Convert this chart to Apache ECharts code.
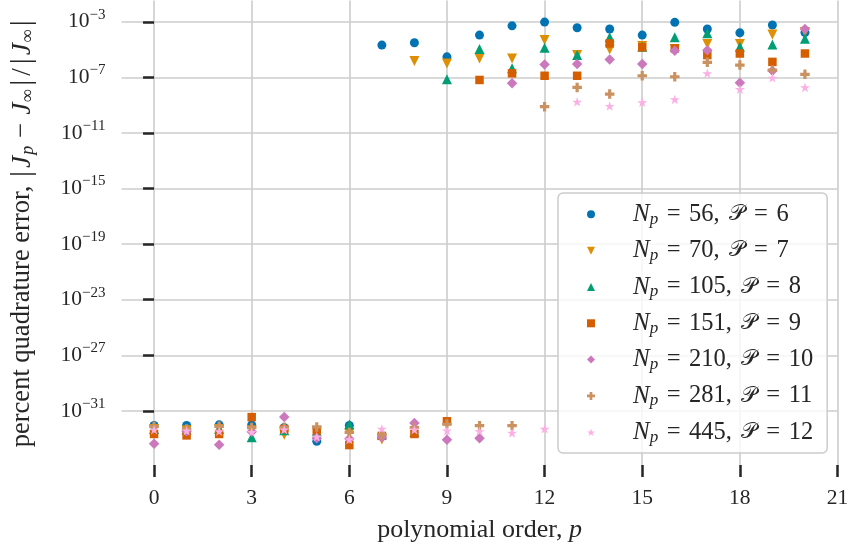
<!DOCTYPE html>
<html><head><meta charset="utf-8">
<script src="https://cdn.jsdelivr.net/npm/echarts@6/dist/echarts.min.js"></script>
<style>html,body{margin:0;padding:0;background:#fff}#c{width:851px;height:545px}</style>
</head><body><div id="c"></div>
<script>
// ---- data ----
const pOrders = [0,1,2,3,4,5,6,7,8,9,10,11,12,13,14,15,16,17,18,19,20];
const xTicks = [0,3,6,9,12,15,18,21];
const yTicks = [1e-31,1e-27,1e-23,1e-19,1e-15,1e-11,1e-7,1e-3];
const Np = [56,70,105,151,210,281,445];
const Pcal = [6,7,8,9,10,11,12];

const errNp56 = [9.1e-33,9.1e-33,1.0e-32,1.0e-32,6.3e-33,6.5e-34,8.9e-33,
  2.1e-5,3.1e-5,3.0e-6,1.1e-4,5.1e-4,9.5e-4,3.7e-4,3.0e-4,1.1e-4,9.1e-4,3.0e-4,1.6e-4,5.8e-4,1.7e-4];
const errNp70 = [5.0e-33,4.0e-33,5.0e-33,4.0e-33,1.95e-33,3.2e-33,2.5e-33,8.9e-34,
  1.5e-6,1.0e-6,2.3e-6,2.3e-6,4.8e-5,4.0e-6,1.0e-5,1.8e-5,1.1e-5,2.5e-5,2.5e-5,1.2e-4,1.8e-4];
const errNp105 = [5.0e-33,4.5e-33,5.0e-33,1.26e-33,4.0e-33,3.5e-33,1.07e-32,2.0e-33,3.2e-33,
  7.2e-8,1.1e-5,4.5e-7,1.35e-5,4.0e-6,7.6e-5,1.6e-5,7.6e-5,1.5e-4,1.6e-5,2.3e-5,6.0e-5];
const errNp151 = [2.2e-33,1.74e-33,2.2e-33,3.6e-32,5.0e-33,4.0e-33,3.5e-34,1.6e-33,2.2e-33,1.8e-32,
  6.5e-8,1.95e-7,1.3e-7,1.3e-7,2.75e-5,1.45e-5,1.23e-5,4.0e-6,5.2e-6,1.3e-6,5.2e-6];
const errNp210 = [4.4e-34,3.5e-33,3.7e-34,3.2e-33,3.6e-32,1.1e-33,1.0e-33,1.26e-33,1.35e-32,8.5e-34,1.1e-33,
  3.7e-8,8.5e-7,9.1e-7,1.95e-6,9.1e-7,8.1e-6,9.1e-6,4.1e-8,3.0e-7,3.0e-4];
const errNp281 = [7.8e-33,5.0e-33,7.8e-33,6.3e-33,6.6e-33,7.1e-33,2.8e-33,1.95e-33,6.3e-33,1.15e-32,8.7e-33,8.7e-33,
  7.8e-10,1.9e-8,6.3e-9,1.3e-7,1.1e-7,1.2e-6,7.6e-7,3.4e-7,1.66e-7];
const errNp445 = [4.5e-33,3.8e-33,3.4e-33,3.0e-33,4.5e-33,1.4e-33,8.9e-34,5.2e-33,4.5e-33,3.8e-33,3.4e-33,2.6e-33,5.2e-33,
  1.74e-9,8.7e-10,1.6e-9,2.6e-9,1.95e-7,1.4e-8,9.3e-8,1.9e-8];

const seriesValues = [errNp56, errNp70, errNp105, errNp151, errNp210, errNp281, errNp445];
const colors = ['#0173b2','#de8f05','#029e73','#d55e00','#cc78bc','#ca9161','#fbafe4'];
const symbols = [
  'circle',
  'path://M0,0 L2,0 L1,2 Z',
  'path://M1,0 L2,2 L0,2 Z',
  'path://M0,0 H1 V1 H0 Z',
  'path://M1,0 L2,1 L1,2 L0,1 Z',
  'path://M1,0 H2 V1 H3 V2 H2 V3 H1 V2 H0 V1 H1 Z',
  'path://M0,-1 L0.2245,-0.309 L0.951,-0.309 L0.3633,0.118 L0.5878,0.809 L0,0.382 L-0.5878,0.809 L-0.3633,0.118 L-0.951,-0.309 L-0.2245,-0.309 Z'
];
const sizes = [9, 10, 10, 8.5, 10.5, 9.5, 10];

const SERIF = '"Liberation Serif", "DejaVu Serif", serif';
const TXT = '#262626';

function supLabel(v){
  const e = Math.round(Math.log10(v));
  return '{b|10}{s|' + (e < 0 ? '\u2212' + (-e) : e) + '}';
}

const names = Np.map((n,i)=>'Np=' + n + ', P=' + Pcal[i]);

const series = seriesValues.map((vals, i) => ({
  type: 'scatter',
  name: names[i],
  data: pOrders.map((p, k) => [p, vals[k]]),
  symbol: symbols[i],
  symbolSize: sizes[i],
  symbolKeepAspect: true,
  itemStyle: { color: colors[i], opacity: 1 },
  emphasis: { disabled: true }
}));

const chart = echarts.init(document.getElementById('c'), null, { renderer: 'canvas' });
chart.setOption({
  animation: false,
  backgroundColor: '#fff',
  grid: { left: 121.5, right: 13.5, top: 0.5, bottom: 80, containLabel: false, outerBoundsMode: 'none' },
  xAxis: {
    type: 'value', min: -1, max: 21,
    axisLine: { show: false },
    axisTick: { show: true, customValues: xTicks, length: 12, lineStyle: { color: TXT, width: 2.5 } },
    axisLabel: { customValues: xTicks, fontFamily: SERIF, fontSize: 21.5, color: TXT, margin: 22 },
    splitLine: { show: true, lineStyle: { color: '#cccccc', width: 1.6 } },
    name: 'polynomial order, {i|p}',
    nameLocation: 'middle', nameGap: 50, nameMoveOverlap: false,
    nameTextStyle: { fontFamily: SERIF, fontSize: 26, color: TXT, lineHeight: 30,
      rich: { i: { fontFamily: SERIF, fontStyle: 'italic', fontSize: 26, color: TXT, lineHeight: 30 } } }
  },
  yAxis: {
    type: 'log', logBase: 10,
    min: Math.pow(10, -34.89), max: Math.pow(10, -1.47),
    axisLine: { show: false },
    axisTick: { show: true, customValues: yTicks, length: 11, lineStyle: { color: TXT, width: 2.5 } },
    axisLabel: { customValues: yTicks, formatter: supLabel, margin: 16,
      rich: {
        b: { fontFamily: SERIF, fontSize: 21.5, color: TXT },
        s: { fontFamily: SERIF, fontSize: 15, color: TXT, padding: [0,0,14,0] }
      } },
    splitLine: { show: true, lineStyle: { color: '#cccccc', width: 1.6 } },
    name: 'percent quadrature error, {bar||}{i|J}{sub|p}{op|\u2212}{i|J}{sub|\u221e}{bar||}{sl|/}{bar||}{i|J}{sub|\u221e}{bar||}',
    nameLocation: 'middle', nameGap: 84, nameRotate: 90, nameMoveOverlap: false,
    nameTextStyle: { fontFamily: SERIF, fontSize: 26.5, color: TXT, lineHeight: 30,
      rich: {
        i: { fontFamily: SERIF, fontStyle: 'italic', fontSize: 27.5, color: TXT, padding: [0,1,0,1] },
        bar: { fontFamily: SERIF, fontSize: 30, color: TXT, padding: [0,2,0,2] },
        op: { fontFamily: SERIF, fontSize: 26.5, color: TXT, padding: [0,7,0,7] },
        sl: { fontFamily: SERIF, fontSize: 27, color: TXT, padding: [0,2,0,2] },
        sub: { fontFamily: SERIF, fontStyle: 'italic', fontSize: 18, color: TXT, padding: [11,1,0,0] }
      } }
  },
  legend: {
    orient: 'vertical', left: 558, top: 193,
    padding: [7.3, 14, 6.7, 29],
    itemWidth: 8, itemHeight: 8, itemGap: 8.33,
    backgroundColor: 'rgba(255,255,255,0.8)', borderColor: '#cccccc', borderWidth: 1.5, borderRadius: 5,
    data: names,
    formatter: function (name) {
      const i = names.indexOf(name);
      return '{pad|}{i|N}{sub|p}{eq|=}{r|' + Np[i] + ',}{cal|\ud835\udcab}{eq|=}{r|' + Pcal[i] + '}';
    },
    textStyle: {
      fontFamily: SERIF, fontSize: 24.5, color: TXT, lineHeight: 28,
      rich: {
        pad: { width: 33, lineHeight: 28 },
        i: { fontFamily: SERIF, fontStyle: 'italic', fontSize: 25, color: TXT, lineHeight: 28 },
        r: { fontFamily: SERIF, fontSize: 24.5, color: TXT, lineHeight: 28 },
        eq: { fontFamily: SERIF, fontSize: 24.5, color: TXT, lineHeight: 28, padding: [0,8.5,0,8.5] },
        cal: { fontFamily: '"DejaVu Serif", "DejaVu Sans", "Noto Sans", serif', fontSize: 21.5, color: TXT, lineHeight: 28, padding: [0,1,0,9] },
        sub: { fontFamily: SERIF, fontStyle: 'italic', fontSize: 17, color: TXT, lineHeight: 18, padding: [10,0,0,0] }
      }
    }
  },
  series: series
});
</script></body></html>
